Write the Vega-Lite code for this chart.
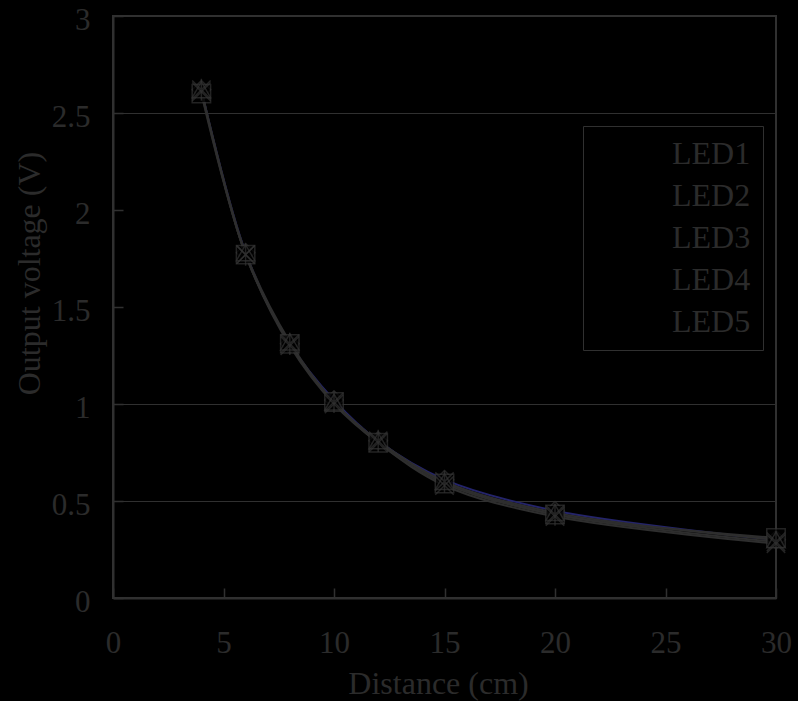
{
  "$schema": "https://vega.github.io/schema/vega-lite/v6.json",
  "width": 663,
  "height": 582,
  "autosize": {"type": "none"},
  "padding": {"left": 113, "top": 16, "right": 22, "bottom": 103},
  "background": "#000000",
  "config": {
    "view": {"stroke": "#303030", "strokeWidth": 2},
    "font": "Liberation Serif",
    "axis": {
      "labelFont": "Liberation Serif",
      "titleFont": "Liberation Serif",
      "labelFontSize": 31,
      "titleFontSize": 32,
      "titleFontWeight": "normal",
      "labelColor": "#2b2b2b",
      "titleColor": "#2b2b2b",
      "domainColor": "#303030",
      "domainWidth": 2,
      "tickColor": "#303030",
      "tickWidth": 1.5,
      "tickSize": -10,
      "labelFlush": false,
      "labelOverlap": false
    },
    "legend": {
      "labelFont": "Liberation Serif",
      "strokeWidth": 1
    }
  },
  "data": {
    "values": [
      {"d": 4, "v": 2.62, "led": "LED1"},
      {"d": 6, "v": 1.78, "led": "LED1"},
      {"d": 8, "v": 1.31, "led": "LED1"},
      {"d": 10, "v": 1.02, "led": "LED1"},
      {"d": 12, "v": 0.81, "led": "LED1"},
      {"d": 15, "v": 0.61, "led": "LED1"},
      {"d": 20, "v": 0.45, "led": "LED1"},
      {"d": 30, "v": 0.30, "led": "LED1"},
      {"d": 4, "v": 2.60, "led": "LED2"},
      {"d": 6, "v": 1.77, "led": "LED2"},
      {"d": 8, "v": 1.31, "led": "LED2"},
      {"d": 10, "v": 1.01, "led": "LED2"},
      {"d": 12, "v": 0.80, "led": "LED2"},
      {"d": 15, "v": 0.59, "led": "LED2"},
      {"d": 20, "v": 0.43, "led": "LED2"},
      {"d": 30, "v": 0.31, "led": "LED2"},
      {"d": 4, "v": 2.62, "led": "LED3"},
      {"d": 6, "v": 1.78, "led": "LED3"},
      {"d": 8, "v": 1.32, "led": "LED3"},
      {"d": 10, "v": 1.01, "led": "LED3"},
      {"d": 12, "v": 0.81, "led": "LED3"},
      {"d": 15, "v": 0.60, "led": "LED3"},
      {"d": 20, "v": 0.44, "led": "LED3"},
      {"d": 30, "v": 0.30, "led": "LED3"},
      {"d": 4, "v": 2.61, "led": "LED4"},
      {"d": 6, "v": 1.77, "led": "LED4"},
      {"d": 8, "v": 1.30, "led": "LED4"},
      {"d": 10, "v": 1.00, "led": "LED4"},
      {"d": 12, "v": 0.80, "led": "LED4"},
      {"d": 15, "v": 0.58, "led": "LED4"},
      {"d": 20, "v": 0.42, "led": "LED4"},
      {"d": 30, "v": 0.28, "led": "LED4"},
      {"d": 4, "v": 2.62, "led": "LED5"},
      {"d": 6, "v": 1.77, "led": "LED5"},
      {"d": 8, "v": 1.31, "led": "LED5"},
      {"d": 10, "v": 1.01, "led": "LED5"},
      {"d": 12, "v": 0.81, "led": "LED5"},
      {"d": 15, "v": 0.60, "led": "LED5"},
      {"d": 20, "v": 0.43, "led": "LED5"},
      {"d": 30, "v": 0.29, "led": "LED5"}
    ]
  },
  "encoding": {
    "x": {
      "field": "d",
      "type": "quantitative",
      "scale": {"domain": [0, 30], "nice": false, "zero": false},
      "axis": {
        "title": "Distance (cm)",
        "values": [0, 5, 10, 15, 20, 25, 30],
        "format": "~g",
        "grid": false,
        "labelPadding": 40,
        "titleX": 325,
        "titleY": 95,
        "titleBaseline": "alphabetic",
        "titleAlign": "center"
      }
    },
    "y": {
      "field": "v",
      "type": "quantitative",
      "scale": {"domain": [0, 3], "nice": false},
      "axis": {
        "title": "Output voltage (V)",
        "values": [0, 0.5, 1, 1.5, 2, 2.5, 3],
        "format": "~g",
        "grid": true,
        "gridColor": "#303030",
        "gridWidth": 1,
        "gridOpacity": {"condition": {"test": "datum.value == 0.5 || datum.value == 1 || datum.value == 2.5", "value": 1}, "value": 0},
        "labelPadding": 33,
        "labelOffset": 4,
        "titleX": -84,
        "titleY": 257,
        "titleBaseline": "middle",
        "titleAlign": "center"
      }
    }
  },
  "layer": [
    {
      "mark": {"type": "line", "strokeWidth": 2, "interpolate": "catmull-rom"},
      "encoding": {
        "detail": {"field": "led", "type": "nominal"},
        "color": {"condition": {"test": "datum.led === 'LED1'", "value": "#24246a"}, "value": "#2e2e2e"},
        "order": {"field": "d", "type": "quantitative"}
      }
    },
    {
      "mark": {"type": "point", "filled": true, "fill": "#000000", "stroke": "#333333", "strokeWidth": 1.5, "size": 340},
      "encoding": {
        "shape": {
          "field": "led",
          "type": "nominal",
          "scale": {
            "domain": ["LED1", "LED2", "LED3", "LED4", "LED5"],
            "range": ["diamond", "square", "triangle-up", "M-1,-1L1,1M-1,1L1,-1", "M-1,-1L1,1M-1,1L1,-1M0,-1.2L0,1.2"]
          },
          "legend": {
            "title": null,
            "orient": "none",
            "legendX": 470,
            "legendY": 110,
            "padding": 12,
            "strokeColor": "#303030",
            "symbolSize": 400,
            "symbolStrokeWidth": 1.5,
            "symbolStrokeColor": "#333333",
            "symbolFillColor": "#000000",
            "symbolOffset": 17,
            "labelOffset": 28,
            "labelFontSize": 32,
            "labelColor": "#2b2b2b",
            "rowPadding": 10
          }
        }
      }
    }
  ]
}
